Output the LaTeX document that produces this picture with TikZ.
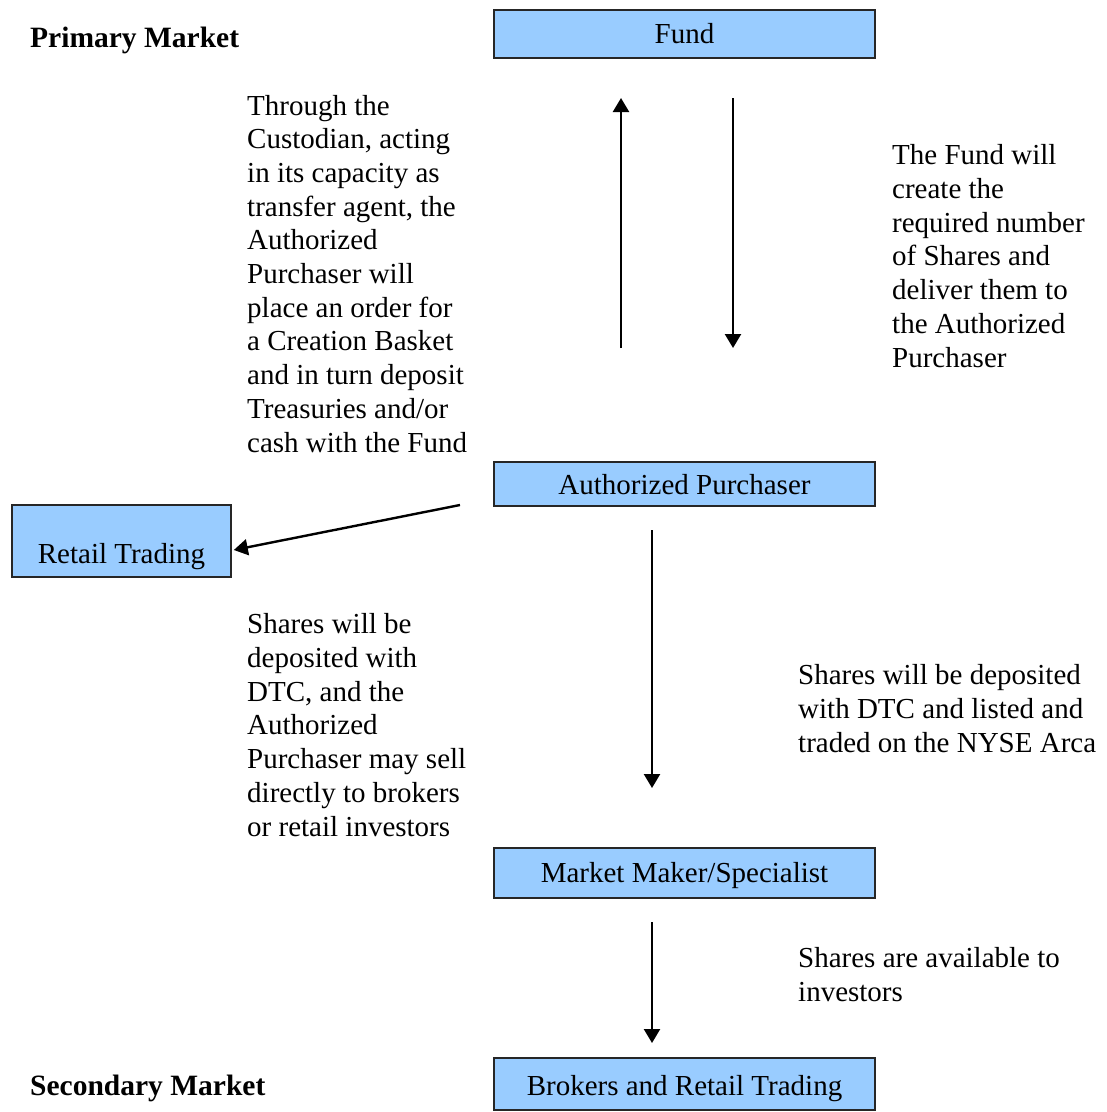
\documentclass[tikz,border=0pt]{standalone}
\usepackage{fontspec}
\setmainfont{Liberation Serif}
\usetikzlibrary{arrows.meta}
\definecolor{boxblue}{HTML}{99CCFF}
\begin{document}
\begin{tikzpicture}
  [x=1pt,y=-1pt,
   every node/.style={inner sep=0pt,font=\fontsize{29}{33.7}\selectfont},
   bluebox/.style={draw=black!85,fill=boxblue,line width=1.6pt,minimum width=381pt,anchor=base},
   note/.style={align=left,anchor=base west},
   arr/.style={line width=2.4pt,-{Triangle[width=16pt,length=14pt]}}]
  \useasboundingbox (0,0) rectangle (1107,1112);

  \node[anchor=base west,font=\fontsize{29.5}{33.7}\selectfont\bfseries] (prim) at (30,47) {Primary Market};
  \node[anchor=base west,font=\fontsize{29.5}{33.7}\selectfont\bfseries] (sec) at (30,1095) {Secondary Market};

  \node[bluebox,text height=33pt,text depth=15pt] (fund) at (684.5,43) {Fund};
  \node[bluebox,text height=32pt,text depth=12pt] (ap) at (684.5,494) {Authorized Purchaser};
  \node[bluebox,text height=58pt,text depth=14pt,minimum width=219pt] (retail) at (121.5,563) {Retail Trading};
  \node[bluebox,text height=34pt,text depth=16pt] (mm) at (684.5,882) {Market Maker/Specialist};
  \node[bluebox,text height=37pt,text depth=15pt] (brk) at (684.5,1095) {Brokers and Retail Trading};

  % notes are placed by the baseline of their last line
  \node[note] (t1) at (247,452) {Through the\\Custodian, acting\\in its capacity as\\transfer agent, the\\Authorized\\Purchaser will\\place an order for\\a Creation Basket\\and in turn deposit\\Treasuries and/or\\cash with the Fund};
  \node[note] (t2) at (892,367) {The Fund will\\create the\\required number\\of Shares and\\deliver them to\\the Authorized\\Purchaser};
  \node[note] (t3) at (247,836) {Shares will be\\deposited with\\DTC, and the\\Authorized\\Purchaser may sell\\directly to brokers\\or retail investors};
  \node[note] (t4) at (798,752) {Shares will be deposited\\with DTC and listed and\\traded on the NYSE Arca};
  \node[note] (t5) at (798,1001) {Shares are available to\\investors};

  \coordinate (upA) at (621,348);
  \coordinate (upB) at (621,98);
  \coordinate (dnA) at (733,98);
  \coordinate (dnB) at (733,348);
  \coordinate (rtA) at (460,505);
  \coordinate (mmA) at (652,530);
  \coordinate (mmB) at (652,788);
  \coordinate (bkA) at (652,922);
  \coordinate (bkB) at (652,1043);

  \draw[arr] (upA) -- (upB);
  \draw[arr] (dnA) -- (dnB);
  \draw[arr] (rtA) -- ([yshift=-9pt,xshift=2pt]retail.east);
  \draw[arr] (mmA) -- (mmB);
  \draw[arr] (bkA) -- (bkB);

\end{tikzpicture}
\end{document}
